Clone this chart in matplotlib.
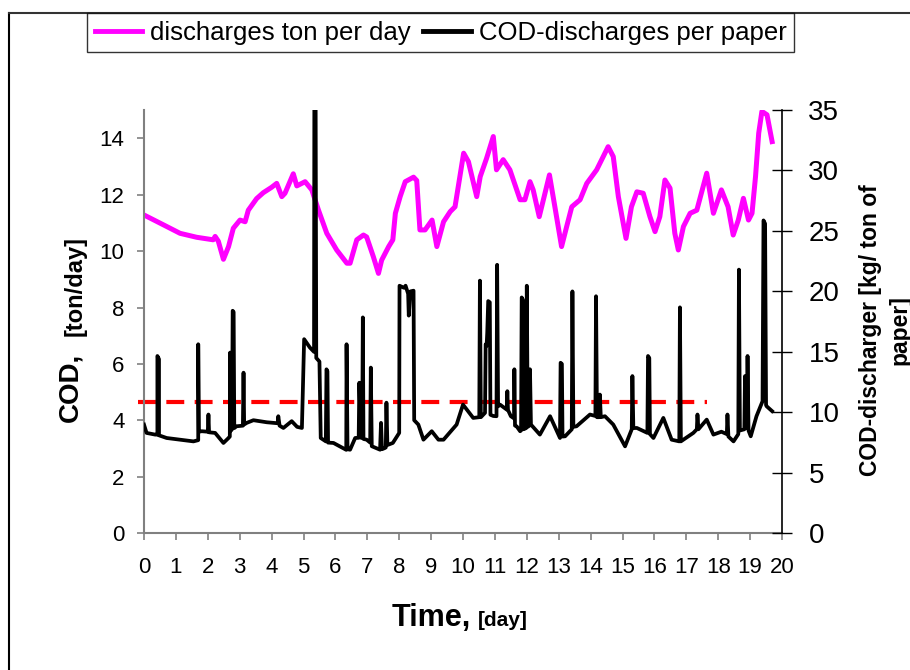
import matplotlib
matplotlib.use('Agg')
import matplotlib.pyplot as plt
from matplotlib.lines import Line2D

plt.rcParams['font.family'] = ['Liberation Sans', 'DejaVu Sans']

# discharges ton per day (left axis)
days_ton = [0, 0.61, 1.13, 1.65, 2.17, 2.23, 2.33, 2.49, 2.65, 2.80,
            3.01, 3.17, 3.27, 3.53, 3.74, 4.0, 4.16, 4.32, 4.42, 4.68,
            4.79, 5.05, 5.26, 5.47, 5.73, 6.04, 6.36, 6.46, 6.67, 6.88,
            6.98, 7.19, 7.35, 7.45, 7.67, 7.8, 7.88, 8.03, 8.19, 8.45,
            8.55, 8.65, 8.81, 9.03, 9.18, 9.39, 9.6, 9.75, 10.02, 10.17,
            10.43, 10.54, 10.74, 10.95, 11.05, 11.26, 11.47, 11.79, 11.94, 12.1,
            12.2, 12.39, 12.57, 12.71, 12.88, 13.09, 13.25, 13.41, 13.67, 13.88,
            14.19, 14.55, 14.71, 14.87, 15.11, 15.28, 15.45, 15.65, 15.86, 16.02,
            16.17, 16.33, 16.49, 16.64, 16.75, 16.91, 17.12, 17.33, 17.64, 17.85,
            18.1, 18.31, 18.47, 18.63, 18.79, 18.95, 19.06, 19.17, 19.27, 19.37,
            19.53, 19.69]
ton_per_day = [11.28, 10.93, 10.63, 10.49, 10.40, 10.52, 10.35, 9.71, 10.16, 10.81,
               11.1, 11.04, 11.45, 11.86, 12.07, 12.26, 12.4, 11.93, 12.05, 12.74,
               12.31, 12.46, 12.17, 11.45, 10.63, 10.04, 9.57, 9.57, 10.4, 10.57,
               10.5, 9.8, 9.21, 9.68, 10.16, 10.4, 11.34, 11.93, 12.46, 12.62,
               12.5, 10.75, 10.75, 11.1, 10.16, 11.04, 11.4, 11.57, 13.47, 13.17,
               11.93, 12.64, 13.29, 14.06, 12.88, 13.24, 12.88, 11.82, 11.82, 12.46,
               12.17, 11.22, 12.05, 12.7, 11.57, 10.16, 10.87, 11.57, 11.82, 12.4,
               12.88, 13.7, 13.35, 11.93, 10.45, 11.57, 12.1, 12.05, 11.22, 10.69,
               11.22, 12.52, 12.23, 10.63, 10.04, 10.87, 11.34, 11.45, 12.76, 11.34,
               12.17, 11.57, 10.57, 11.1, 11.87, 11.1, 11.34, 12.64, 14.18, 14.95,
               14.83, 13.88]

# COD-discharges per paper (right axis, kg/ton)
days_paper = [0, 0.08, 0.35, 0.42, 0.42, 0.47, 0.47, 0.71, 1.13, 1.55,
              1.70, 1.70, 1.72, 1.81, 2.0, 2.02, 2.04, 2.23, 2.49, 2.65,
              2.69, 2.70, 2.73, 2.76, 2.78, 2.81, 2.83, 2.9, 3.1, 3.12,
              3.14, 3.22, 3.43, 3.85, 4.19, 4.21, 4.25, 4.37, 4.63, 4.8,
              4.95, 5.02, 5.2, 5.33, 5.34, 5.38, 5.40, 5.5, 5.54, 5.70,
              5.72, 5.75, 5.77, 5.94, 6.34, 6.35, 6.38, 6.46, 6.62, 6.73,
              6.75, 6.8, 6.84, 6.86, 6.88, 6.98, 7.09, 7.11, 7.14, 7.4,
              7.43, 7.46, 7.55, 7.58, 7.6, 7.63, 7.8, 8.0, 8.01, 8.15,
              8.2, 8.28, 8.3, 8.35, 8.45, 8.47, 8.6, 8.76, 9.02, 9.23,
              9.39, 9.8, 10.0, 10.32, 10.51, 10.53, 10.56, 10.69, 10.71, 10.74,
              10.76, 10.79, 10.84, 10.86, 10.95, 11.05, 11.07, 11.1, 11.16, 11.37,
              11.39, 11.41, 11.5, 11.6, 11.61, 11.63, 11.68, 11.79, 11.82, 11.84,
              11.88, 11.9, 11.98, 12.0, 12.03, 12.08, 12.1, 12.13, 12.41, 12.73,
              13.04, 13.06, 13.1, 13.12, 13.2, 13.41, 13.43, 13.46, 13.56, 13.98,
              14.15, 14.17, 14.2, 14.27, 14.29, 14.32, 14.45, 14.71, 15.08, 15.29,
              15.31, 15.34, 15.45, 15.78, 15.8, 15.84, 15.86, 15.97, 16.28, 16.54,
              16.78, 16.8, 16.83, 17.22, 17.33, 17.35, 17.38, 17.64, 17.85, 18.1,
              18.27, 18.29, 18.32, 18.48, 18.63, 18.65, 18.68, 18.79, 18.82, 18.84,
              18.87, 18.9, 18.92, 18.95, 19.02, 19.2, 19.39, 19.42, 19.47, 19.5,
              19.52, 19.69]
kg_per_ton = [8.99, 8.3, 8.16, 8.16, 14.66, 14.4, 8.1, 7.88, 7.74, 7.6,
              7.7, 15.63, 8.4, 8.44, 8.4, 9.82, 8.35, 8.3, 7.47, 7.88,
              8.0, 14.94, 8.5, 8.6, 18.4, 18.3, 8.7, 8.85, 8.9, 13.28,
              9.0, 9.13, 9.35, 9.18, 9.1, 9.68, 8.9, 8.71, 9.27, 8.8,
              8.71, 16.05, 15.36, 15.0, 36, 36, 14.5, 14.2, 7.88, 7.6,
              13.56, 13.4, 7.5, 7.47, 6.9, 15.63, 6.95, 6.91, 7.88, 7.9,
              12.45, 7.9, 7.9, 17.85, 7.8, 7.74, 7.5, 13.7, 7.2, 6.91,
              9.13, 6.95, 7.05, 7.1, 10.8, 7.3, 7.47, 8.3, 20.47, 20.3,
              20.47, 19.8, 18.0, 20.0, 20.06, 9.35, 8.99, 7.74, 8.44, 7.74,
              7.74, 8.99, 10.64, 9.54, 9.6, 20.89, 9.6, 9.96, 15.63, 15.5,
              16.6, 19.2, 19.1, 9.8, 9.7, 9.68, 22.2, 10.5, 10.64, 10.23,
              11.75, 10.2, 9.68, 9.5, 13.56, 8.9, 8.85, 8.44, 8.5, 19.5,
              19.3, 8.6, 8.7, 20.47, 8.8, 8.9, 13.56, 8.99, 8.16, 9.68,
              7.88, 14.1, 14.0, 8.0, 8.02, 8.6, 20.0, 8.8, 8.85, 9.82,
              9.7, 19.6, 9.6, 9.6, 11.47, 9.6, 9.68, 8.99, 7.19, 8.6,
              13.0, 8.7, 8.71, 8.3, 14.66, 14.5, 8.2, 7.88, 9.54, 7.74,
              7.6, 18.68, 7.6, 8.3, 8.6, 9.82, 8.6, 9.4, 8.16, 8.4,
              8.2, 9.82, 8.0, 7.6, 8.2, 21.8, 8.5, 8.58, 8.6, 13.0,
              8.7, 8.8, 14.66, 8.5, 8.02, 9.68, 10.92, 25.87, 25.6, 10.6,
              10.5, 10.1]

limit_days = [-0.2, 17.65]
limit_ton = [4.67, 4.67]

fig = plt.figure(figsize=(9.1, 6.7), dpi=100)
ax = fig.add_axes([144 / 910, 1 - 533.3 / 670, (782 - 144) / 910, (533.3 - 110) / 670])
ax2 = ax.twinx()

ax.plot(days_ton, ton_per_day, color='#FF00FF', linewidth=3.6, solid_joinstyle='round')
ax.plot(limit_days, limit_ton, color='#FF0000', linewidth=3, dashes=(4.3, 2.5),
        clip_on=False)
ax2.plot(days_paper, kg_per_ton, color='black', linewidth=2.7, solid_joinstyle='round')

ax.set_xlim(0, 20)
ax.set_ylim(0, 15)
ax2.set_ylim(0, 35)
ax.set_xticks(range(0, 21))
ax.set_yticks(range(0, 15, 2))
ax2.set_yticks(range(0, 36, 5))

grey = '#808080'
for s in ('top', 'right'):
    ax.spines[s].set_visible(False)
ax2.spines['top'].set_visible(False)
ax2.spines['left'].set_visible(False)
ax2.spines['bottom'].set_visible(False)
ax.spines['left'].set_color(grey)
ax.spines['bottom'].set_color(grey)
ax.spines['left'].set_linewidth(1.5)
ax.spines['bottom'].set_linewidth(1.5)
ax2.spines['right'].set_color('black')
ax2.spines['right'].set_linewidth(1.2)

ax.tick_params(axis='x', direction='out', length=5, width=1.2, color=grey,
               labelsize=16, pad=12)
ax.tick_params(axis='y', direction='out', length=5, width=1.2, color=grey,
               labelsize=16, pad=9)
ax2.tick_params(axis='y', direction='inout', length=14, width=1.0, color='black',
                labelsize=20, pad=12)

# axis titles, mixed sizes like the original
fig.text(70 / 910, 1 - 422 / 670, 'COD,', rotation=90, fontsize=20,
         fontweight='bold', ha='center', va='bottom')
fig.text(75 / 910, 1 - 336 / 670, '[ton/day]', rotation=90, fontsize=17,
         fontweight='bold', ha='center', va='bottom')
fig.text(392 / 910, 1 - 626 / 670, 'Time,', fontsize=22, fontweight='bold',
         ha='left', va='baseline')
fig.text(478 / 910, 1 - 626 / 670, '[day]', fontsize=15, fontweight='bold',
         ha='left', va='baseline')
fig.text(885 / 910, 1 - 330 / 670, 'COD-discharger [kg/ ton of\npaper]',
         rotation=90, fontsize=16.5, fontweight='bold', ha='center',
         va='center', multialignment='center', linespacing=1.35)

handles = [Line2D([], [], color='#FF00FF', linewidth=3.5),
           Line2D([], [], color='black', linewidth=3.5)]
leg = fig.legend(handles, ['discharges ton per day', 'COD-discharges per paper'],
                 loc='upper left', bbox_to_anchor=(87 / 910, 1 - 13 / 670),
                 ncol=2, fontsize=18.5, frameon=True, fancybox=False,
                 handlelength=1.85, handletextpad=0.3, columnspacing=0.5,
                 borderpad=0.3, borderaxespad=0)
leg.get_frame().set_edgecolor('black')
leg.get_frame().set_linewidth(1.0)

# outer chart border (left and top edges visible)
fig.add_artist(Line2D([9 / 910, 9 / 910], [0, 1 - 13 / 670], color='black',
                      linewidth=1.5, transform=fig.transFigure))
fig.add_artist(Line2D([9 / 910, 1], [1 - 13 / 670, 1 - 13 / 670], color='#333333',
                      linewidth=1.5, transform=fig.transFigure))

fig.savefig('out.png', dpi=100)
